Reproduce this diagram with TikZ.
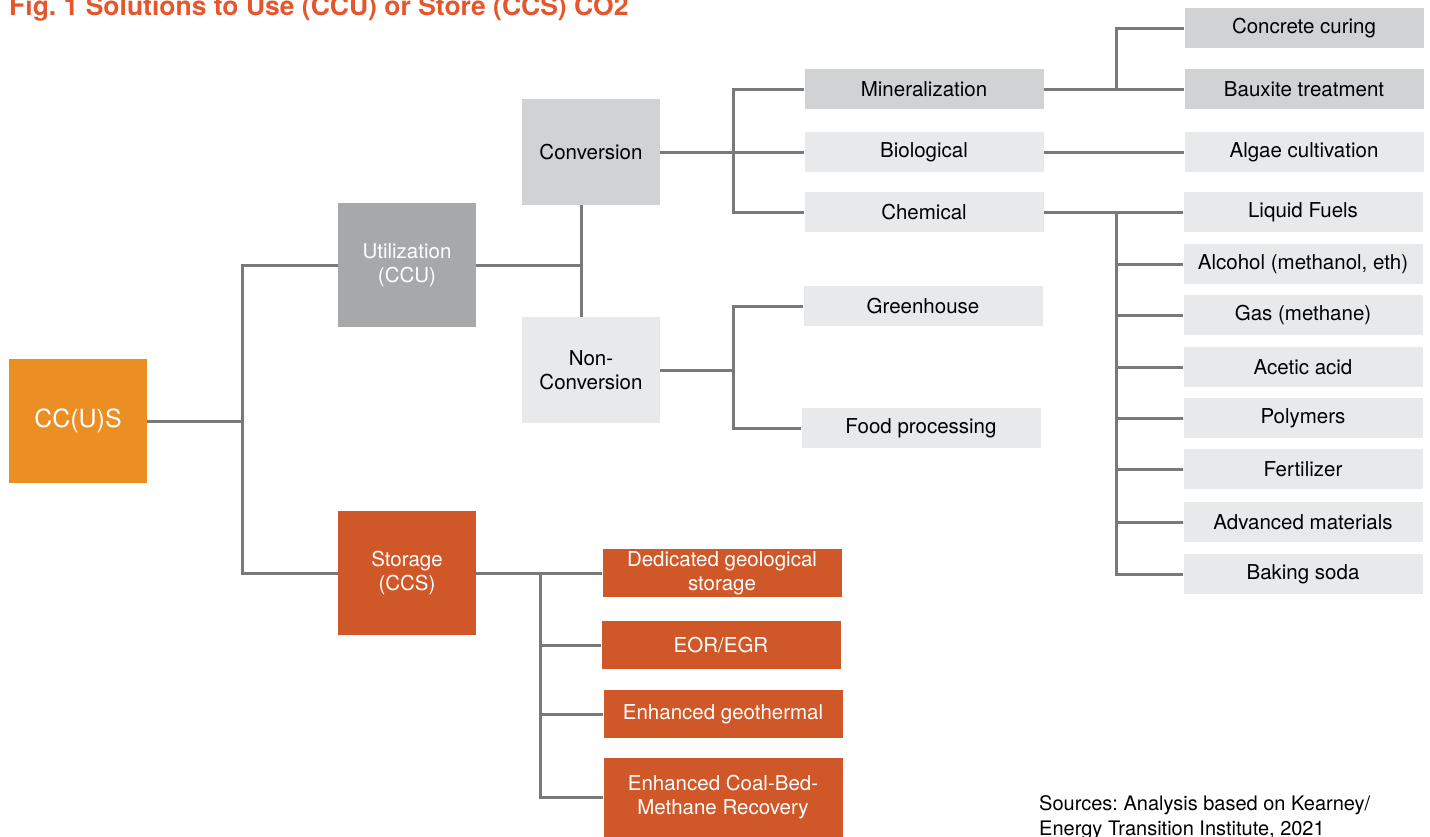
\documentclass[tikz,border=0pt]{standalone}
\usepackage{fontspec}
\setmainfont{TeX Gyre Heros}
\frenchspacing
\definecolor{ccusorange}{RGB}{235,143,36}
\definecolor{utilgray}{RGB}{167,168,170}
\definecolor{storred}{RGB}{208,87,39}
\definecolor{boxmid}{RGB}{209,210,212}
\definecolor{boxlight}{RGB}{232,233,235}
\definecolor{linegray}{RGB}{119,121,123}
\definecolor{titlered}{RGB}{230,86,44}

\begin{document}
\begin{tikzpicture}[
        x=1pt,y=-1pt,
        link/.style={draw=linegray,line width=3pt},
        box/.style={inner sep=0pt,align=center,font=\fontsize{20.5}{24}\selectfont},
        bigbox/.style={box,text=white,minimum width=138pt,minimum height=124pt},
        midbox/.style={box,minimum width=138pt,minimum height=106pt},
        leaf/.style={box,minimum width=239pt,minimum height=40pt},
        storleaf/.style={box,text=white,fill=storred,minimum width=239pt,minimum height=48pt}
    ]
    \useasboundingbox (0,0) rectangle (1430,836);

    \node[anchor=base west,inner sep=0pt,text=titlered,font=\bfseries\fontsize{26.5}{30}\selectfont]
        (title) at (9,15) {Fig.~1 Solutions to Use (CCU) or Store (CCS) CO2};

    % main branches
    \node[bigbox,fill=ccusorange,font=\fontsize{25}{30}\selectfont] (ccus) at (78,421) {CC(U)S};
    \node[bigbox,fill=utilgray] (util) at (407,265) {Utilization\\(CCU)};
    \node[bigbox,fill=storred] (stor) at (407,573) {Storage\\(CCS)};
    \node[midbox,fill=boxmid] (conv) at (591,152) {Conversion};
    \node[midbox,fill=boxlight] (nonconv) at (591,370) {Non-\\Conversion};

    \node[leaf,fill=boxmid] (miner) at (924,89) {Mineralization};
    \node[leaf,fill=boxlight] (bio) at (924,152) {Biological};
    \node[leaf,fill=boxlight] (chem) at (924,212) {Chemical};
    \node[leaf,fill=boxlight] (green) at (923,306) {Greenhouse};
    \node[leaf,fill=boxlight] (food) at (921,428) {Food processing};

    \node[leaf,fill=boxmid] (concrete) at (1304,28) {Concrete curing};
    \node[leaf,fill=boxmid] (bauxite) at (1304,89) {Bauxite treatment};
    \node[leaf,fill=boxlight] (algae) at (1304,152) {Algae cultivation};

    \node[storleaf] (s1) at (722,573) {Dedicated geological\\storage};
    \node[storleaf] (s2) at (721,645) {EOR/EGR};
    \node[storleaf] (s3) at (723,714) {Enhanced geothermal};
    \node[storleaf,minimum height=79pt] (s4) at (723,797) {Enhanced Coal-Bed-\\Methane Recovery};

    \coordinate (j1) at (242,421);
    \coordinate (j2) at (581,265);
    \coordinate (j3) at (733,152);
    \coordinate (j4) at (733,370);
    \coordinate (j5) at (1116,89);
    \coordinate (j6) at (1116,212);
    \coordinate (j7) at (540,573);

    \draw[link] (ccus.east) -- (j1);
    \draw[link] (util.west) -| (j1) |- (stor.west);
    \draw[link] (util.east) -- (j2);
    \draw[link] (j2 |- conv.south) -- (j2 |- nonconv.north);
    \draw[link] (conv.east) -- (bio.west);
    \draw[link] (miner.west) -| (j3) |- (chem.west);
    \draw[link] (nonconv.east) -- (j4);
    \draw[link] (green.west) -| (j4) |- (food.west);
    \draw[link] (miner.east) -- (bauxite.west);
    \draw[link] (concrete.west) -| (j5);
    \draw[link] (bio.east) -- (algae.west);
    \draw[link] (chem.east) -- (j6);

    \foreach \y/\name/\txt in {212/c1/Liquid Fuels,{264/c2/Alcohol (methanol, eth)},
            315/c3/Gas (methane),367/c4/Acetic acid,418/c5/Polymers,
            469/c6/Fertilizer,522/c7/Advanced materials,574/c8/Baking soda} {
        \node[leaf,fill=boxlight] (\name) at (1303,\y) {\txt};
        \draw[link] (\name.west) -- (\name.west -| j6);
    }
    \draw[link] (j6) |- (c8.west);

    \draw[link] (stor.east) -- (s1.west);
    \draw[link] (j7) |- (s4.west);
    \draw[link] (s2.west) -- (s2.west -| j7);
    \draw[link] (s3.west) -- (s3.west -| j7);

    \node[anchor=north west,inner sep=0pt,align=left,font=\fontsize{20}{25}\selectfont]
        (sources) at (1039,795) {Sources: Analysis based on Kearney/\\Energy Transition Institute, 2021};
\end{tikzpicture}
\end{document}
